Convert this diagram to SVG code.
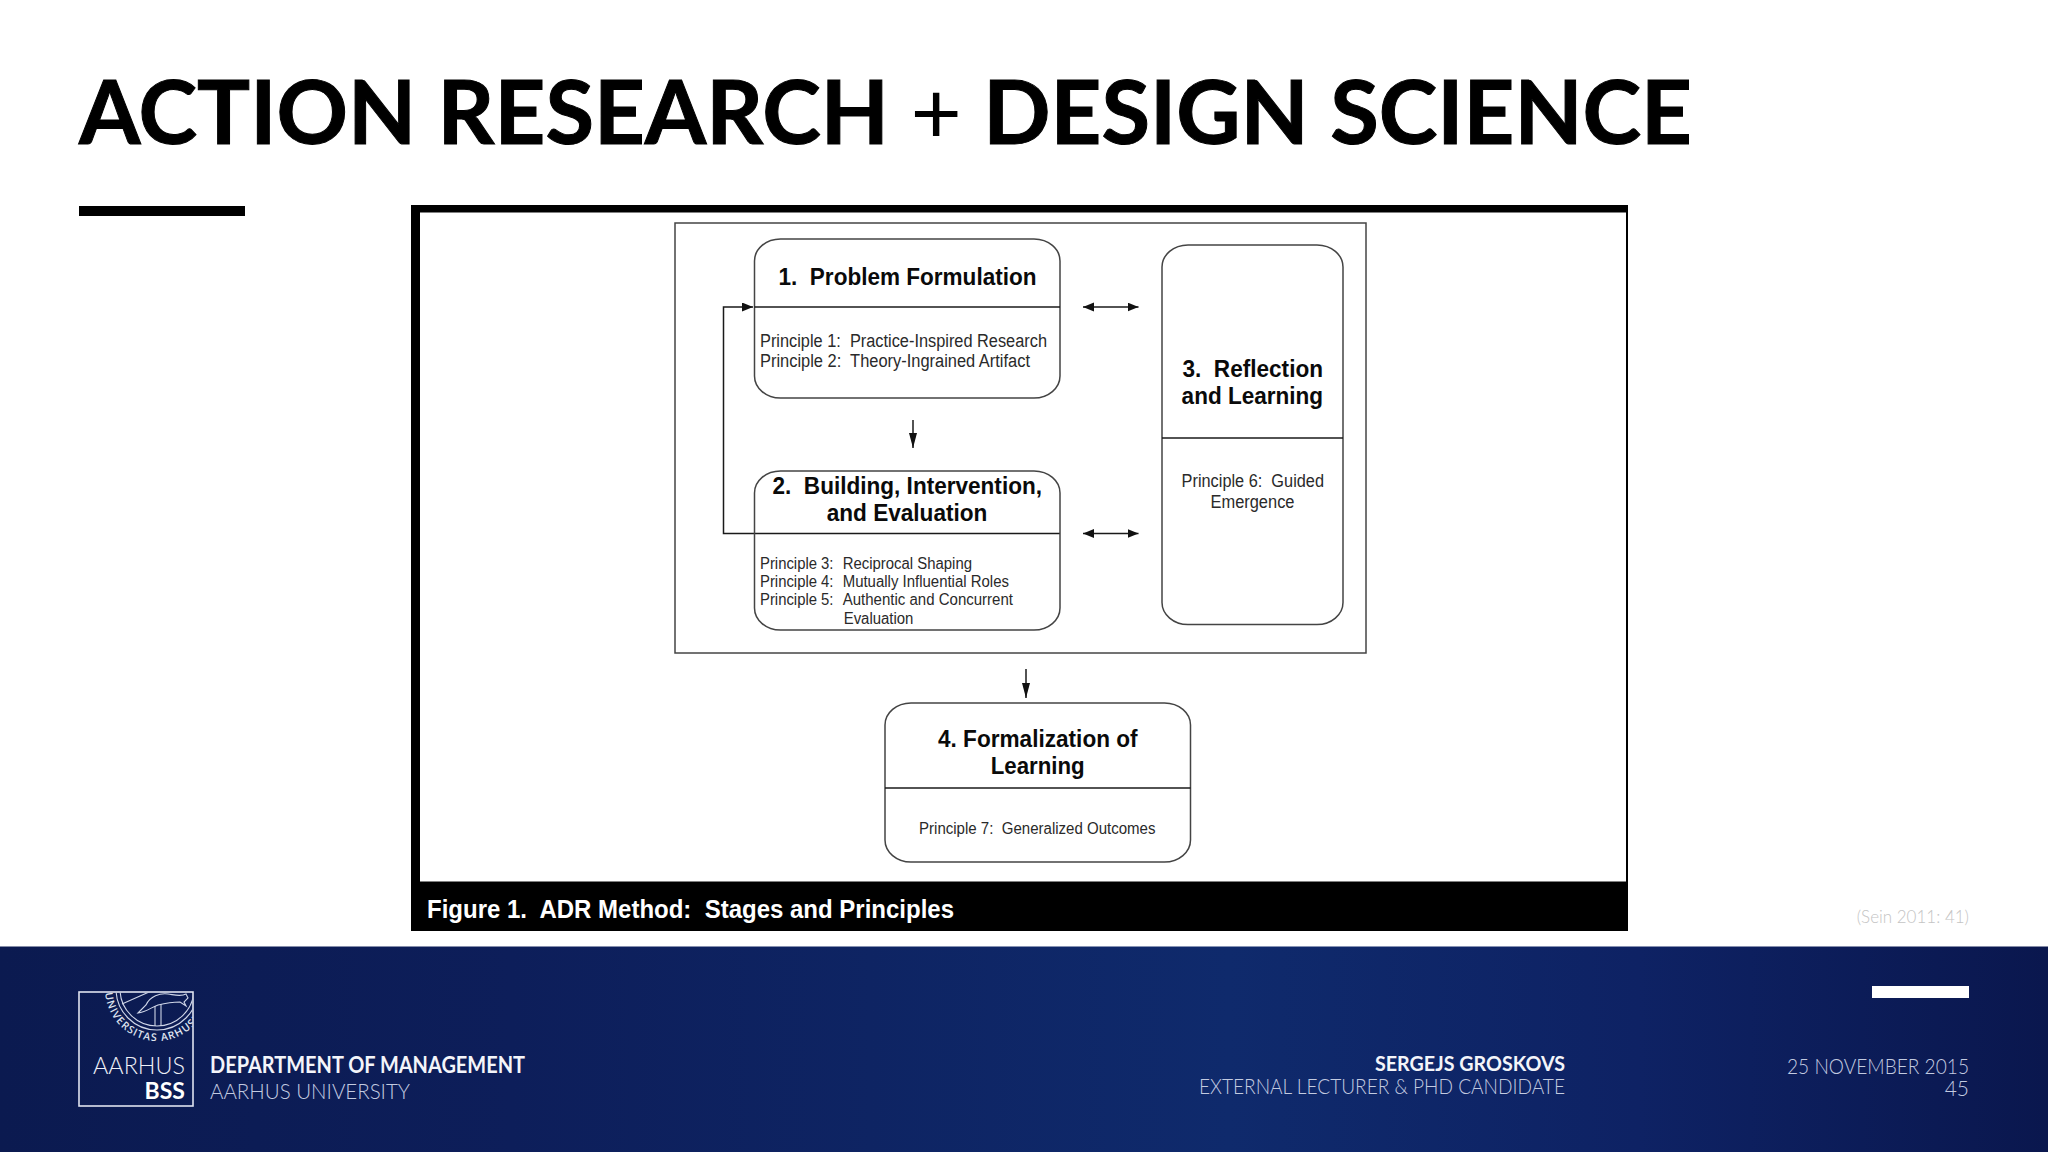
<svg xmlns="http://www.w3.org/2000/svg" width="2048" height="1152" viewBox="0 0 2048 1152">
<style>
text{white-space:pre}
.a{font-family:"Liberation Sans",Arial,sans-serif;fill:#111}
.h{font-size:23.500px;font-weight:700;fill:#0a0a0a}
.p{font-size:18px;fill:#2a2a2a}
.q{font-size:16px;fill:#2a2a2a}
.m{text-anchor:middle}
.box{fill:none;stroke:#444;stroke-width:1.500}
.ln{fill:none;stroke:#1a1a1a;stroke-width:1.500}
.f{font-family:Lato,"Open Sans",sans-serif}
.l{font-weight:300;fill:#c3cbe0;font-size:22px}
.e{text-anchor:end}
</style>
<defs>
<linearGradient id="bg" x1="0" x2="1" y1="0" y2="0">
<stop offset="0" stop-color="#0b1a50"/><stop offset=".25" stop-color="#0d1e5a"/><stop offset=".6" stop-color="#0f2a6c"/><stop offset=".8" stop-color="#0e2264"/><stop offset="1" stop-color="#0a174e"/>
</linearGradient>
<marker id="ah" markerUnits="userSpaceOnUse" markerWidth="12" markerHeight="10" refX="11" refY="4.5" orient="auto-start-reverse"><path d="M0 0L11 4.500L0 9Z" fill="#111"/></marker>
<marker id="dn" markerUnits="userSpaceOnUse" markerWidth="16" markerHeight="10" refX="15" refY="4" orient="auto"><path d="M0 0L15 4L0 8Z" fill="#111"/></marker>
<clipPath id="lc"><rect x="79.500" y="992.500" width="113" height="113"/></clipPath>
<path id="seal" d="M105 989A52 52 0 0 0 209 989"/>
</defs>
<rect width="2048" height="1152" fill="#fff"/>
<g id="title">
<text class="f" x="79" y="144" font-size="88" font-weight="700" stroke="#000" stroke-width="1" fill="#000" textLength="1613" lengthAdjust="spacingAndGlyphs">ACTION RESEARCH <tspan font-weight="400" stroke-width="0">+</tspan> DESIGN SCIENCE</text>
<rect x="79" y="206" width="166" height="10" fill="#000"/>
</g>
<g id="figure-frame">
<rect x="411" y="205" width="1217" height="726" fill="#000"/>
<rect x="420" y="212.500" width="1206" height="669" fill="#fff"/>
<text class="a" x="427" y="918" font-size="25" font-weight="700" style="fill:#fff" textLength="527" lengthAdjust="spacingAndGlyphs">Figure 1.  ADR Method:  Stages and Principles</text>
</g>
<rect id="outer" x="675" y="223" width="691" height="430" class="box"/>
<g id="connectors">
<path class="ln" d="M1060 533.500H723.500V307H753" marker-end="url(#ah)"/>
<path class="ln" d="M1083 307H1138.500" marker-start="url(#ah)" marker-end="url(#ah)"/>
<path class="ln" d="M1083 533.500H1138.500" marker-start="url(#ah)" marker-end="url(#ah)"/>
<path class="ln" d="M913 420V448" marker-end="url(#dn)"/>
<path class="ln" d="M1026 669V698" marker-end="url(#dn)"/>
</g>
<g id="node-1">
<rect x="754.500" y="239" width="305.500" height="159" rx="26" ry="22" class="box"/>
<path class="ln" d="M754.500 307H1060"/>
<text class="a h" x="778.500" y="285" textLength="258" lengthAdjust="spacingAndGlyphs">1.  Problem Formulation</text>
<text class="a p" x="760" y="347" textLength="287" lengthAdjust="spacingAndGlyphs">Principle 1:  Practice-Inspired Research</text>
<text class="a p" x="760" y="367" textLength="270" lengthAdjust="spacingAndGlyphs">Principle 2:  Theory-Ingrained Artifact</text>
</g>
<g id="node-2">
<rect x="754.500" y="471" width="305.500" height="159" rx="26" ry="22" class="box"/>
<text class="a h" x="772.500" y="494" textLength="269.500" lengthAdjust="spacingAndGlyphs">2.  Building, Intervention,</text>
<text class="a h" x="826.700" y="521" textLength="160.700" lengthAdjust="spacingAndGlyphs">and Evaluation</text>
<text class="a q" x="760" y="569" textLength="73.500" lengthAdjust="spacingAndGlyphs">Principle 3:</text><text class="a q" x="842.700" y="569" textLength="129.300" lengthAdjust="spacingAndGlyphs">Reciprocal Shaping</text>
<text class="a q" x="760" y="587" textLength="73.500" lengthAdjust="spacingAndGlyphs">Principle 4:</text><text class="a q" x="842.700" y="587" textLength="166.300" lengthAdjust="spacingAndGlyphs">Mutually Influential Roles</text>
<text class="a q" x="760" y="605" textLength="73.500" lengthAdjust="spacingAndGlyphs">Principle 5:</text><text class="a q" x="842.700" y="605" textLength="170.300" lengthAdjust="spacingAndGlyphs">Authentic and Concurrent</text>
<text class="a q" x="843.700" y="624" textLength="69.700" lengthAdjust="spacingAndGlyphs">Evaluation</text>
</g>
<g id="node-3">
<rect x="1162" y="245" width="181" height="379.500" rx="26" ry="22" class="box"/>
<path class="ln" d="M1162 438H1343"/>
<text class="a h" x="1182.500" y="377" textLength="140.500" lengthAdjust="spacingAndGlyphs">3.  Reflection</text>
<text class="a h" x="1181.600" y="403.500" textLength="141.500" lengthAdjust="spacingAndGlyphs">and Learning</text>
<text class="a p" x="1181.600" y="487" textLength="142.400" lengthAdjust="spacingAndGlyphs">Principle 6:  Guided</text>
<text class="a p" x="1210.500" y="508" textLength="84" lengthAdjust="spacingAndGlyphs">Emergence</text>
</g>
<g id="node-4">
<rect x="885" y="703" width="305.500" height="159" rx="26" ry="22" class="box"/>
<path class="ln" d="M885 788H1190.500"/>
<text class="a h" x="938" y="747" textLength="199.600" lengthAdjust="spacingAndGlyphs">4. Formalization of</text>
<text class="a h" x="990.700" y="774" textLength="94" lengthAdjust="spacingAndGlyphs">Learning</text>
<text class="a q" x="919" y="834" textLength="236.500" lengthAdjust="spacingAndGlyphs">Principle 7:  Generalized Outcomes</text>
</g>
<text id="cite" class="f" x="1969" y="923" text-anchor="end" font-size="17" font-weight="300" fill="#c4c4c4">(Sein 2011: 41)</text>
<g id="footer">
<rect y="946.500" width="2048" height="205.500" fill="url(#bg)"/>
<rect x="1872" y="986" width="97" height="12" fill="#fff"/>
</g>
<g id="logo">
<rect x="79" y="992" width="114" height="114" fill="none" stroke="#dfe3ef" stroke-width="1.600"/>
<g clip-path="url(#lc)" fill="none" stroke="#cfd6e8" stroke-width="1.100">
<circle cx="157" cy="989" r="41"/><circle cx="157" cy="989" r="37"/>
<path d="M138 1013L146 1005C150 996 160 993 168 994C175 995 181 997 186 994L188 998L184 1002L186 1006L180 1002C174 1002 166 1003 158 1005C152 1007 146 1012 138 1013Z"/>
<path d="M155 1006V1026M161 1004V1026"/>
<path d="M122 1004L140 996L165 985"/>
<text font-family="'Open Sans',sans-serif" font-size="10.500" font-weight="600" fill="#dfe3ef" stroke="none" letter-spacing="1.100"><textPath href="#seal">·UNIVERSITAS ARHUSIENSIS</textPath></text>
</g>
<text class="f e" x="185" y="1074" font-size="24" font-weight="300" fill="#eef0f7" textLength="92" lengthAdjust="spacingAndGlyphs">AARHUS</text>
<text class="f e" x="185" y="1099" font-size="23" font-weight="700" fill="#fff">BSS</text>
</g>
<g id="footer-text">
<text class="f" x="210" y="1073" font-size="22" font-weight="700" fill="#f4f5fa" textLength="315" lengthAdjust="spacingAndGlyphs">DEPARTMENT OF MANAGEMENT</text>
<text class="f l" x="210" y="1099" textLength="200" lengthAdjust="spacingAndGlyphs">AARHUS UNIVERSITY</text>
<text class="f e" x="1565" y="1071" font-size="20" font-weight="700" fill="#f4f5fa" textLength="190" lengthAdjust="spacingAndGlyphs">SERGEJS GROSKOVS</text>
<text class="f l e" x="1565" y="1094" style="font-size:21px" textLength="366" lengthAdjust="spacingAndGlyphs">EXTERNAL LECTURER &amp; PHD CANDIDATE</text>
<text class="f l e" x="1969" y="1074" style="font-size:21px" textLength="182" lengthAdjust="spacingAndGlyphs">25 NOVEMBER 2015</text>
<text class="f l e" x="1969" y="1096" style="font-size:21px">45</text>
</g>
</svg>
